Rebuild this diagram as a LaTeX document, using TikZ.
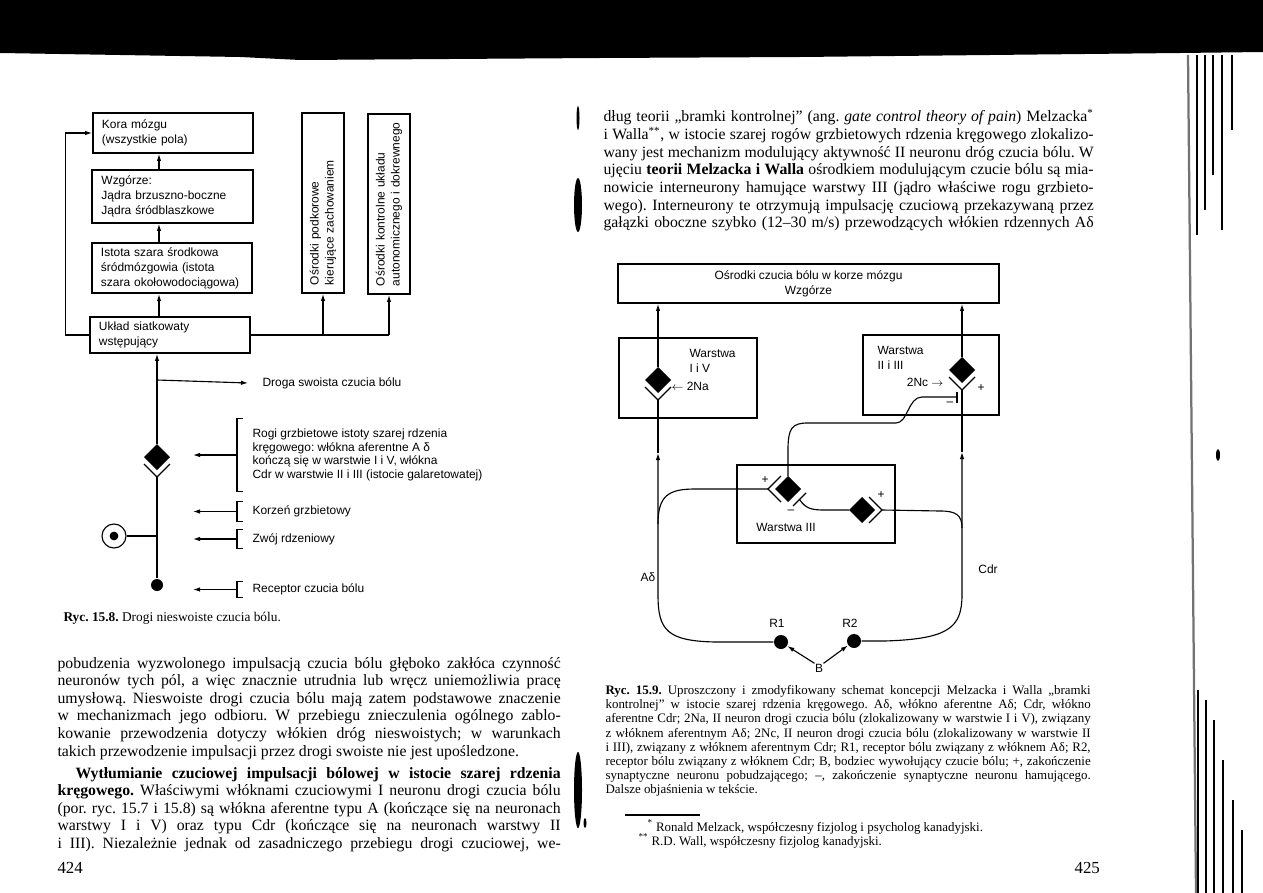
\documentclass[tikz,border=0pt]{standalone}
\usepackage{fontspec}
\setmainfont{Liberation Serif}
\setsansfont{Liberation Sans}
\usetikzlibrary{arrows.meta,positioning,calc}
\frenchspacing

\tikzset{
  box/.style={draw, line width=1.3pt, font=\sffamily\fontsize{8.5}{10.6}\selectfont, inner xsep=0.225cm, align=left},
  frame/.style={draw, line width=1.3pt, inner sep=0pt},
  lbl/.style={font=\sffamily\fontsize{8.5}{9.6}\selectfont, anchor=west, inner xsep=0.375cm, inner ysep=0pt, align=left},
  txt/.style={font=\sffamily\fontsize{8.5}{10.6}\selectfont, inner sep=0pt, align=left},
  arr/.style={-{Latex[length=5pt,width=3.2pt]}},
  dot/.style={circle, fill, inner sep=0pt, minimum size=#1},
  dot/.default=0.35cm,
  body/.style={font=\fontsize{11.2}{13}\selectfont, anchor=base west, inner sep=0pt},
  capt/.style={font=\fontsize{9.2}{11}\selectfont, anchor=base west, inner sep=0pt},
  synD/.pic={
    \fill (0,-13) -- (13,0) -- (0,13) -- (-13,0) -- cycle;
    \draw (-13,7) -- (0,20) -- (13,7);
    \coordinate (-n) at (0,-13);
    \coordinate (-s) at (0,13);
    \coordinate (-e) at (13,0);
    \coordinate (-w) at (-13,0);
    \coordinate (-apex) at (0,20);
  },
  synL/.pic={
    \fill (0,-13) -- (13,0) -- (0,13) -- (-13,0) -- cycle;
    \draw (-7,-13) -- (-20,0) -- (-7,13);
    \coordinate (-n) at (0,-13);
    \coordinate (-s) at (0,13);
    \coordinate (-e) at (13,0);
    \coordinate (-w) at (-13,0);
    \coordinate (-apex) at (-20,0);
  },
  synR/.pic={
    \fill (0,-13) -- (13,0) -- (0,13) -- (-13,0) -- cycle;
    \draw (7,-13) -- (20,0) -- (7,13);
    \coordinate (-n) at (0,-13);
    \coordinate (-s) at (0,13);
    \coordinate (-e) at (13,0);
    \coordinate (-w) at (-13,0);
    \coordinate (-apex) at (20,0);
  },
}
\newcommand{\jl}[2]{\makebox[#1][s]{#2}}
\newcommand{\brkt}[1]{\draw ([xshift=0.15cm]#1.north west) -- (#1.north west) -- (#1.south west) -- ([xshift=0.15cm]#1.south west);}

\begin{document}
\begin{tikzpicture}[x=0.025cm, y=-0.025cm, line width=0.8pt]
\fill[white] (0,0) rectangle (1263,893);
\useasboundingbox (0,0) rectangle (1263,893);

% scan edges
\fill (0,0) -- (1263,0) -- (1263,52) -- (1180,53) -- (800,57) -- (600,58) -- (300,60) -- (240,57) -- (0,53) -- cycle;
\draw[line width=1.6pt, black!55] (1188,55) -- (1196,893);
\foreach \x/\yb in {1197/235, 1205/210, 1213/175, 1222/230, 1232/130} \draw[line width=1.1pt] (\x,55) -- (\x,\yb);
\foreach \x/\ya in {1198/690, 1206/700, 1214/720, 1223/760, 1233/800, 1242/830} \draw[line width=1.1pt] (\x,\ya) -- (\x,893);
\fill (1218,455) ellipse (2 and 6);
\fill (578,118) ellipse (1.5 and 12);
\fill (578,205) ellipse (4 and 27);
\fill (578,790) ellipse (4 and 38);
\fill (585,823) ellipse (1.5 and 5);

%% ---- Ryc. 15.8 ----
\node[box, minimum width=4cm, minimum height=1cm, text width=3.55cm] (kora) at (173,133) {Kora mózgu\\(wszystkie pola)};
\node[box, minimum width=4.025cm, minimum height=1.325cm, text width=3.55cm] (wzgorze) at (172.5,196.5) {Wzgórze:\\Jądra brzuszno-boczne\\Jądra śródblaszkowe};
\node[box, minimum width=4cm, minimum height=1.25cm, text width=3.55cm] (istota) at (172,268) {Istota szara środkowa\\śródmózgowia (istota\\szara okołowodociągowa)};
\node[box, minimum width=4cm, minimum height=0.9cm, text width=3.55cm] (uklad) at (170,335) {Układ siatkowaty\\wstępujący};
\node[box, rotate=90, minimum width=4.5cm, minimum height=1.05cm, text width=4.1cm, inner xsep=0.2cm] (podkor) at (323,203) {Ośrodki podkorowe\\kierujące zachowaniem};
\node[box, rotate=90, minimum width=4.5cm, minimum height=1.05cm, text width=4.1cm, inner xsep=0.2cm] (kontrol) at (389,204) {Ośrodki kontrolne układu\\autonomicznego i dokrewnego};

\coordinate (ax) at (159,0);
\coordinate (spine) at (157,0);
\draw[arr] (wzgorze.north -| ax) -- (kora.south -| ax);
\draw[arr] (istota.north -| ax) -- (wzgorze.south -| ax);
\draw[arr] (uklad.north -| ax) -- (istota.south -| ax);
\draw[arr] (uklad.west) -- ++(-24,0) |- (kora.west);
\draw (uklad.east) -- (uklad.east -| kontrol.west);
\draw[arr] (uklad.east -| podkor.west) -- (podkor.west);
\draw[arr] (uklad.east -| kontrol.west) -- (kontrol.west);

\pic (dsyn) at (157,457) {synD};
\node[dot=0.3cm] (rec) at (157,585) {};
\node[draw, circle, minimum size=0.6cm, inner sep=0pt] (zwoj) at (114,536) {};
\node[dot=0.22cm] (zwojc) at (zwoj.center) {};
\coordinate (swo) at (157,380);
\draw[arr] (dsyn-n) -- (dsyn-n |- uklad.south);
\draw (dsyn-apex) -- (rec);
\draw (zwoj) -- (zwoj -| spine);

\node[lbl, inner xsep=0.35cm] (droga) at (248,383) {Droga swoista czucia bólu};
\draw[arr] (swo) -- (droga.west);

\node[lbl, minimum height=1.8cm] (rogi) at (237,455) {Rogi grzbietowe istoty szarej rdzenia\\kręgowego: włókna aferentne A δ\\kończą się w warstwie I i V, włókna\\Cdr w warstwie II i III (istocie galaretowatej)};
\node[lbl, minimum height=0.475cm] (korzen) at (237,511.5) {Korzeń grzbietowy};
\node[lbl, minimum height=0.45cm] (zwojl) at (237,539) {Zwój rdzeniowy};
\node[lbl, minimum height=0.375cm] (recl) at (237,589.5) {Receptor czucia bólu};
\brkt{rogi} \brkt{korzen} \brkt{zwojl} \brkt{recl}
\coordinate (tip) at (193,0);
\foreach \n in {rogi,korzen,zwojl,recl} \draw[arr] (\n.west) -- (\n.west -| tip);

\node[font=\fontsize{9.5}{11}\selectfont, anchor=base west, inner sep=0pt] (cap8) at (63,621) {\textbf{Ryc. 15.8.} Drogi nieswoiste czucia bólu.};

%% ---- Ryc. 15.9 ----
\node[box, align=center, minimum width=9.525cm, minimum height=0.975cm] (ctx) at (808.5,283.5) {Ośrodki czucia bólu w korze mózgu\\Wzgórze};
\node[frame, minimum width=3.45cm, minimum height=2cm] (w15) at (688,378) {};
\node[frame, minimum width=3.4cm, minimum height=2cm] (w23) at (931,375) {};
\node[frame, minimum width=3.95cm, minimum height=1.95cm] (w3) at (816,504) {};

\pic (s2na) at (658,380) {synD};
\pic (s2nc) at (962,370) {synD};
\pic (s3a) at (788,489) {synL};
\pic (s3b) at (862,510) {synR};

\node[txt, anchor=north west] (t15) at (689,349) {Warstwa\\I i V};
\node[txt, anchor=west] (na) at (671,386) {$\leftarrow$ 2Na};
\node[txt, anchor=north west] (t23) at (877,346) {Warstwa\\II i III};
\node[txt, anchor=east] (nc) at (944,382) {2Nc $\rightarrow$};
\node[txt] (pl1) at (981,388) {+};
\node[txt] (t3) at (786,527) {Warstwa III};
\node[txt] (pl2) at (765,480) {+};
\node[txt] (mi1) at (791,512) {–};
\node[txt] (pl3) at (881,495) {+};
\node[txt] (mi2) at (950,404) {–};
\node[txt] (ad) at (648,577) {Aδ};
\node[txt] (cdr) at (988,569) {Cdr};
\node[txt] (lr1) at (777,623) {R1};
\node[txt] (lr2) at (850,623) {R2};
\node[txt] (bstim) at (819,668) {B};

\node[dot] (rec1) at (781,642) {};
\node[dot] (rec2) at (854,641) {};
\coordinate (aUp) at (658,453);
\coordinate (aBr) at (658,524);
\coordinate (cUp) at (962,452);
\coordinate (cJoin) at (962,528);
\coordinate (inhA) at (793,506);
\coordinate (inhB) at (806,493);

\draw[arr] (s2na-n) -- (s2na-n |- ctx.south);
\draw[arr] (s2nc-n) -- (s2nc-n |- ctx.south);
\draw[arr] (rec1) -- (715,642) .. controls (667,641) and (658,630) .. (658,595) -- (aUp);
\draw (aUp) -- (s2na-apex);
\draw[arr] (rec2) -- (885,641) .. controls (948,639) and (962,628) .. (962,595) -- (cUp);
\draw (cUp) -- (s2nc-apex);
\draw (aBr) .. controls (658,496) and (668,489) .. (695,489) -- (s3a-apex);
\draw (s3a-n) -- (788,450) .. controls (788,428) and (792,423) .. (808,423) -- (896,423) .. controls (908,423) and (908,397) .. (922,397) -- (957,397);
\draw (957,392) -- (957,403);
\draw (inhA) -- (inhB);
\draw ($(inhA)!.5!(inhB)$) .. controls (806,509) and (812,510) .. (825,510) -- (s3b-w);
\draw (s3b-apex) -- (940,511) .. controls (956,511) and (962,515) .. (cJoin);
\draw[arr] (bstim.north west) -- (rec1);
\draw[arr] (bstim.north east) -- (rec2);

%% ---- text of page 424 ----
\node[body] (lp1) at (57,668) {\jl{12.575cm}{pobudzenia wyzwolonego impulsacją czucia bólu głęboko zakłóca czynność}};
\node[body] (lp2) at (57,685.6) {\jl{12.575cm}{neuronów tych pól, a więc znacznie utrudnia lub wręcz uniemożliwia pracę}};
\node[body] (lp3) at (57,703.2) {\jl{12.575cm}{umysłową. Nieswoiste drogi czucia bólu mają zatem podstawowe znaczenie}};
\node[body] (lp4) at (57,720.8) {\jl{12.575cm}{w mechanizmach jego odbioru. W przebiegu znieczulenia ogólnego zablo-}};
\node[body] (lp5) at (57,738.4) {\jl{12.575cm}{kowanie przewodzenia dotyczy włókien dróg nieswoistych; w warunkach}};
\node[body] (lp6) at (57,756) {takich przewodzenie impulsacji przez drogi swoiste nie jest upośledzone.};
\node[body] (lp7) at (75,778) {\jl{12.125cm}{\textbf{Wytłumianie czuciowej impulsacji bólowej w istocie szarej rdzenia}}};
\node[body] (lp8) at (57,795.6) {\jl{12.575cm}{\textbf{kręgowego.} Właściwymi włóknami czuciowymi I neuronu drogi czucia bólu}};
\node[body] (lp9) at (57,813.2) {\jl{12.575cm}{(por. ryc. 15.7 i 15.8) są włókna aferentne typu A (kończące się na neuronach}};
\node[body] (lp10) at (57,830.8) {\jl{12.575cm}{warstwy I i V) oraz typu Cdr (kończące się na neuronach warstwy II}};
\node[body] (lp11) at (57,848.4) {\jl{12.575cm}{i III). Niezależnie jednak od zasadniczego przebiegu drogi czuciowej, we-}};
\node[body, font=\fontsize{12}{14}\selectfont] (pg424) at (57,873) {424};

%% ---- text of page 425 ----
\node[body] (rp1) at (603,122) {\jl{12.25cm}{dług teorii „bramki kontrolnej” (ang. \textit{gate control theory of pain}) Melzacka\textsuperscript{*}}};
\node[body] (rp2) at (603,139.6) {\jl{12.25cm}{i Walla\textsuperscript{**}, w istocie szarej rogów grzbietowych rdzenia kręgowego zlokalizo-}};
\node[body] (rp3) at (603,157.2) {\jl{12.25cm}{wany jest mechanizm modulujący aktywność II neuronu dróg czucia bólu. W}};
\node[body] (rp4) at (603,174.8) {\jl{12.25cm}{ujęciu \textbf{teorii Melzacka i Walla} ośrodkiem modulującym czucie bólu są mia-}};
\node[body] (rp5) at (603,192.4) {\jl{12.25cm}{nowicie interneurony hamujące warstwy III (jądro właściwe rogu grzbieto-}};
\node[body] (rp6) at (603,210) {\jl{12.25cm}{wego). Interneurony te otrzymują impulsację czuciową przekazywaną przez}};
\node[body] (rp7) at (603,227.6) {\jl{12.25cm}{gałązki oboczne szybko (12–30 m/s) przewodzących włókien rdzennych Aδ}};

\node[capt] (cp1) at (605,694.5) {\jl{12.125cm}{\textbf{Ryc. 15.9.} Uproszczony i zmodyfikowany schemat koncepcji Melzacka i Walla „bramki}};
\node[capt] (cp2) at (605,708.7) {\jl{12.125cm}{kontrolnej” w istocie szarej rdzenia kręgowego. Aδ, włókno aferentne Aδ; Cdr, włókno}};
\node[capt] (cp3) at (605,722.9) {\jl{12.125cm}{aferentne Cdr; 2Na, II neuron drogi czucia bólu (zlokalizowany w warstwie I i V), związany}};
\node[capt] (cp4) at (605,737.1) {\jl{12.125cm}{z włóknem aferentnym Aδ; 2Nc, II neuron drogi czucia bólu (zlokalizowany w warstwie II}};
\node[capt] (cp5) at (605,751.3) {\jl{12.125cm}{i III), związany z włóknem aferentnym Cdr; R1, receptor bólu związany z włóknem Aδ; R2,}};
\node[capt] (cp6) at (605,765.5) {\jl{12.125cm}{receptor bólu związany z włóknem Cdr; B, bodziec wywołujący czucie bólu; +, zakończenie}};
\node[capt] (cp7) at (605,779.7) {\jl{12.125cm}{synaptyczne neuronu pobudzającego; –, zakończenie synaptyczne neuronu hamującego.}};
\node[capt] (cp8) at (605,793.9) {Dalsze objaśnienia w tekście.};

\draw (625,815) -- (700,815);
\node[capt] (fn1) at (647,831) {\textsuperscript{*} Ronald Melzack, współczesny fizjolog i psycholog kanadyjski.};
\node[capt] (fn2) at (638,845) {\textsuperscript{**} R.D. Wall, współczesny fizjolog kanadyjski.};
\node[body, font=\fontsize{12}{14}\selectfont] (pg425) at (1074,873) {425};
\end{tikzpicture}
\end{document}
